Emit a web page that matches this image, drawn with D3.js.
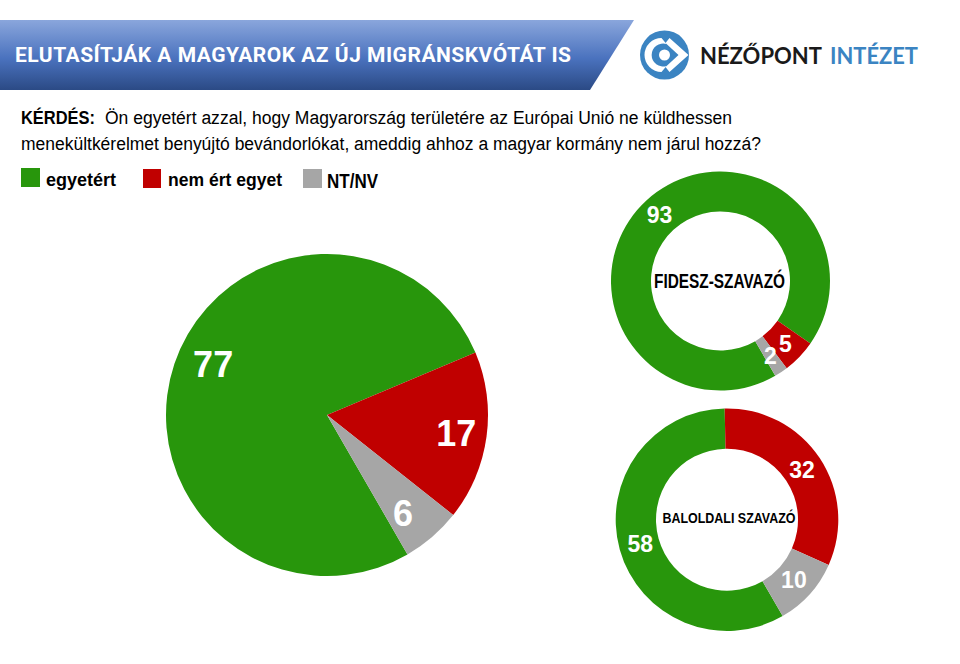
<!DOCTYPE html>
<html><head><meta charset="utf-8">
<script src="https://cdn.jsdelivr.net/npm/d3@7"></script>
<style>html,body{margin:0;padding:0;background:#fff}svg{display:block}text{font-family:"Liberation Sans",Arial,sans-serif}</style>
</head><body><svg id="c" width="960" height="664"></svg>
<script>
const categories = ["egyetért","nem ért egyet","NT/NV"];
const colors = ["#28960c","#c00000","#a6a6a6"];
const totalValues = [77,17,6];
const fideszValues = [93,5,2];
const balValues = [58,32,10];
const titleText = "ELUTASÍTJÁK A MAGYAROK AZ ÚJ MIGRÁNSKVÓTÁT IS";
const questionLabel = "KÉRDÉS:";
const questionLine1 = "Ön egyetért azzal, hogy Magyarország területére az Európai Unió ne küldhessen";
const questionLine2 = "menekültkérelmet benyújtó bevándorlókat, ameddig ahhoz a magyar kormány nem járul hozzá?";

const svg = d3.select("#c");
const defs = svg.append("defs");
const g = defs.append("linearGradient").attr("id","ban").attr("x1",0).attr("x2",0).attr("y1",0).attr("y2",1);
[[0,"#8aa6dc"],[0.55,"#4a72be"],[1,"#2b4a85"]].forEach(s=>g.append("stop").attr("offset",s[0]).attr("stop-color",s[1]));
svg.append("polygon").attr("points","0,20 634,20 590,90 0,90").attr("fill","url(#ban)");
svg.append("text").attr("x",15).attr("y",61.5).attr("fill","#fff").attr("font-size",21).attr("font-weight",700)
  .style("font-family","Roboto").attr("textLength",556).attr("lengthAdjust","spacing").text(titleText);

// logo
const lg = svg.append("g").attr("transform","translate(664.5,55)");
lg.append("circle").attr("r",24.5).attr("fill","#3b84c2");
lg.append("path").attr("d","M-3,-17 A17,17 0 1 0 -3,17 L2,11 A11.5,11.5 0 1 1 2,-11 Z").attr("fill","#fff");
lg.append("path").attr("d","M5,-17 L24,0 L5,17 L1,12 L14,0 L1,-12 Z").attr("fill","#fff");
lg.append("circle").attr("r",5.5).attr("fill","#fff");
svg.append("text").attr("x",700).attr("y",63.5).attr("font-size",23).attr("font-weight",700).attr("fill","#1a1a1a")
  .style("font-family","Lato").attr("textLength",122).attr("lengthAdjust","spacingAndGlyphs").text("NÉZŐPONT");
svg.append("text").attr("x",830).attr("y",63.5).attr("font-size",23).attr("font-weight",700).attr("fill","#3b84c2")
  .style("font-family","Lato").attr("textLength",88).attr("lengthAdjust","spacingAndGlyphs").text("INTÉZET");

// question
svg.append("text").attr("x",21).attr("y",124).attr("font-size",18).attr("font-weight",700).attr("textLength",74).attr("lengthAdjust","spacingAndGlyphs").text(questionLabel);
svg.append("text").attr("x",105).attr("y",124).attr("font-size",18).attr("textLength",627).attr("lengthAdjust","spacingAndGlyphs").text(questionLine1);
svg.append("text").attr("x",21).attr("y",150).attr("font-size",18).attr("textLength",740).attr("lengthAdjust","spacingAndGlyphs").text(questionLine2);

// legend
const legendBox = [[21,168,19],[143,169,18],[303,169,19]];
const legendText = [[46,116],[168,282],[327,378]];
categories.forEach((c,i)=>{
  svg.append("rect").attr("x",legendBox[i][0]).attr("y",legendBox[i][1]).attr("width",legendBox[i][2]).attr("height",19).attr("fill",colors[i]);
  svg.append("text").attr("x",legendText[i][0]).attr("y",i==2?187.5:186).attr("font-size",i==2?20:19).attr("font-weight",700)
    .attr("textLength",legendText[i][1]-legendText[i][0]).attr("lengthAdjust","spacingAndGlyphs").text(c);
});

function ring(values,cx,cy,outer,inner,labelR,fs,nudges){
  const start = 150*Math.PI/180;
  const pie = d3.pie().sort(null).startAngle(start).endAngle(start+2*Math.PI);
  const arc = d3.arc().innerRadius(inner).outerRadius(outer);
  const la = d3.arc().innerRadius(labelR).outerRadius(labelR);
  const gr = svg.append("g").attr("transform",`translate(${cx},${cy})`);
  const arcs = pie(values);
  gr.selectAll("path").data(arcs).join("path").attr("d",arc).attr("fill",(d,i)=>colors[i]);
  gr.selectAll("text").data(arcs).join("text")
    .attr("transform",(d,i)=>{const p=la.centroid(d);const n=(nudges&&nudges[i])||[0,0];return `translate(${p[0]+n[0]},${p[1]+n[1]})`;})
    .attr("text-anchor","middle").attr("dy","0.36em").attr("fill","#fff").attr("font-size",fs).attr("font-weight",700)
    .text(d=>d.data);
  return gr;
}
ring(totalValues,327,415,161,0,127,36,[[6.5,-10],[3.5,1],[-7,2]]);
const a = ring(fideszValues,720.5,281,109.5,69.5,90,23);
a.append("text").attr("y",7.3).attr("x",-1).attr("text-anchor","middle").attr("font-size",19.5).attr("font-weight",700).attr("fill","#000")
  .attr("textLength",131).attr("lengthAdjust","spacingAndGlyphs").text("FIDESZ-SZAVAZÓ");
const b = ring(balValues,727,519.7,111.3,71,90,23);
b.append("text").attr("y",3).attr("x",2).attr("text-anchor","middle").attr("font-size",15.5).attr("font-weight",700).attr("fill","#000")
  .attr("textLength",133).attr("lengthAdjust","spacingAndGlyphs").text("BALOLDALI SZAVAZÓ");
</script></body></html>
